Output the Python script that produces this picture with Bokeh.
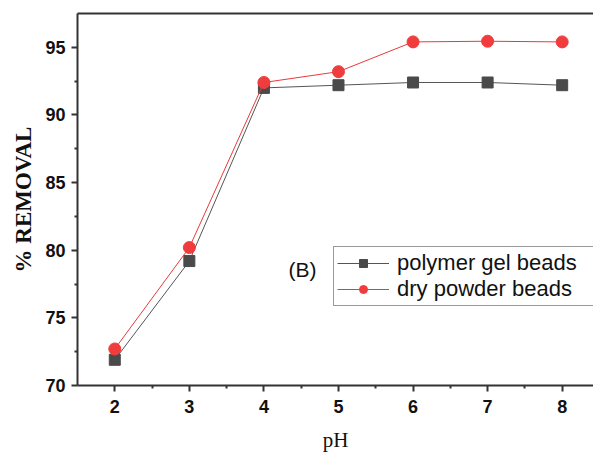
from bokeh.plotting import figure
from bokeh.models import Range1d, LinearAxis, Legend, LegendItem, Label, FixedTicker
from bokeh.embed import file_html
from bokeh.resources import INLINE

ph = [2, 3, 4, 5, 6, 7, 8]
gel_beads = [71.9, 79.2, 92.0, 92.2, 92.4, 92.4, 92.2]
dry_beads = [72.7, 80.2, 92.4, 93.2, 95.4, 95.45, 95.4]
x_ticks = [2, 3, 4, 5, 6, 7, 8]
y_ticks = [70, 75, 80, 85, 90, 95]

p = figure(width=593, height=454, output_backend="svg", toolbar_location=None,
           x_range=Range1d(1.5, 8.42), y_range=Range1d(70, 97.5),
           min_border_left=77, min_border_right=0, min_border_top=13, min_border_bottom=69)
p.outline_line_color = None
p.grid.visible = False
p.background_fill_color = "white"
p.border_fill_color = "white"

axc = "#333333"
for ax in (p.xaxis[0], p.yaxis[0]):
    ax.axis_line_width = 2
    ax.axis_line_color = axc
    ax.major_tick_line_color = axc
    ax.minor_tick_line_color = axc
    ax.major_tick_line_width = 2
    ax.minor_tick_line_width = 2
    ax.major_tick_out = 6
    ax.major_tick_in = 0
    ax.minor_tick_out = 3
    ax.minor_tick_in = 0
    ax.major_label_text_font = "Liberation Sans"
    ax.major_label_text_font_style = "bold"
    ax.major_label_text_font_size = "18px"
    ax.major_label_text_color = "#111111"
    ax.axis_label_text_font = "Liberation Serif"
    ax.axis_label_text_color = "#111111"

p.xaxis[0].ticker = FixedTicker(ticks=x_ticks, minor_ticks=[2.5, 3.5, 4.5, 5.5, 6.5, 7.5])
p.yaxis[0].ticker = FixedTicker(ticks=y_ticks, minor_ticks=[72.5, 77.5, 82.5, 87.5, 92.5])
p.xaxis[0].axis_label = "pH"
p.xaxis[0].axis_label_text_font_style = "normal"
p.xaxis[0].axis_label_text_font_size = "21px"
p.xaxis[0].axis_label_standoff = 12
p.xaxis[0].major_label_standoff = 8
p.yaxis[0].axis_label = "% REMOVAL"
p.yaxis[0].axis_label_text_font_style = "bold"
p.yaxis[0].axis_label_text_font_size = "23px"
p.yaxis[0].axis_label_standoff = 6
p.yaxis[0].major_label_standoff = 6

top = LinearAxis(axis_line_width=2, axis_line_color=axc, major_tick_out=0, major_tick_in=0,
                 minor_tick_out=0, minor_tick_in=0, major_label_text_font_size="0px",
                 ticker=FixedTicker(ticks=[]))
p.add_layout(top, "above")

gl = p.line(ph, gel_beads, line_color="#555555", line_width=1)
gm = p.scatter(ph, gel_beads, marker="square", size=11, fill_color="#4a4a4a", line_color="#4a4a4a")
dl = p.line(ph, dry_beads, line_color="#e8393b", line_width=1)
dm = p.scatter(ph, dry_beads, marker="circle", size=12, fill_color="#f03c3c", line_color="#f03c3c")

legend = Legend(items=[LegendItem(label="polymer gel beads", renderers=[gl, gm]),
                       LegendItem(label="dry powder beads", renderers=[dl, dm])],
                location=(256, 79), glyph_width=52, glyph_height=20, label_height=20,
                label_width=205, label_standoff=8, padding=3, spacing=0, margin=0,
                label_text_font="Liberation Sans", label_text_font_size="22px",
                label_text_color="#111111", border_line_color="#333333", border_line_width=1,
                background_fill_alpha=1)
p.add_layout(legend, "center")

p.add_layout(Label(x=4.33, y=78.6, text="(B)", text_font="Liberation Sans", text_font_size="21px",
                   text_baseline="middle", text_color="#111111"))

open("out.html", "w").write(file_html(p, INLINE))
